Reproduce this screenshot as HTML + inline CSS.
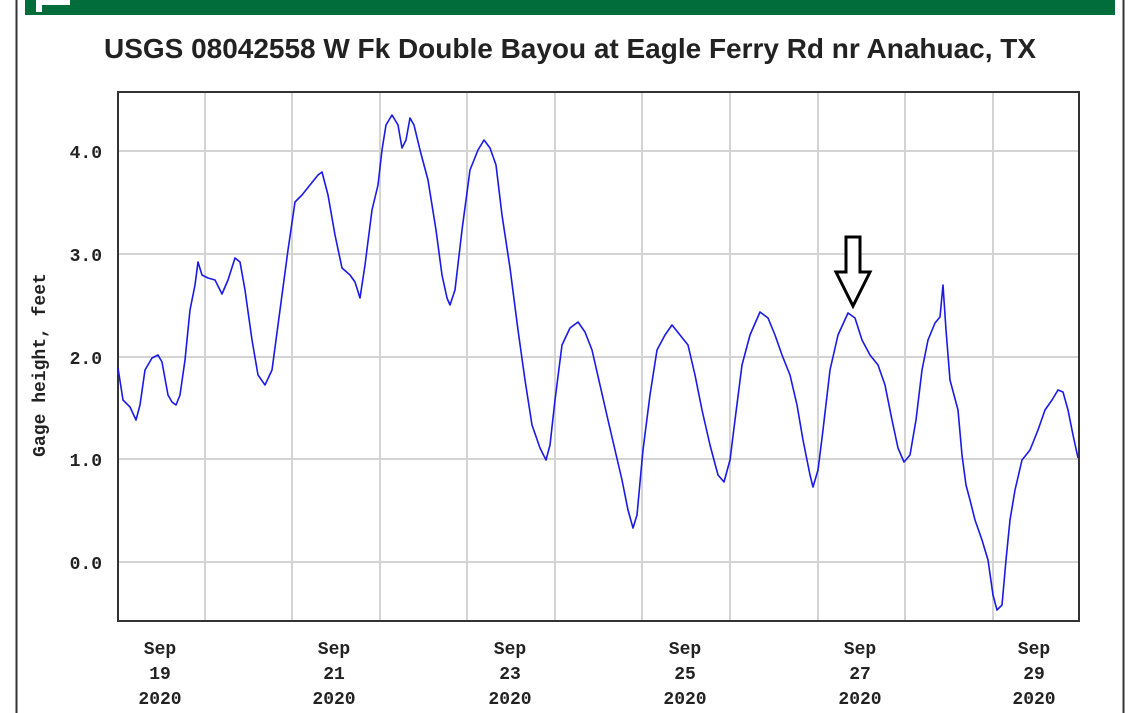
<!DOCTYPE html>
<html><head><meta charset="utf-8"><style>html,body{margin:0;padding:0;background:#fff}svg{display:block}</style></head>
<body>
<svg width="1140" height="713" viewBox="0 0 1140 713" xmlns="http://www.w3.org/2000/svg">
<rect width="1140" height="713" fill="#fff"/>
<rect x="25" y="0" width="1090" height="15" fill="#006d3a"/>
<rect x="36" y="0" width="34" height="5" fill="#fff"/>
<rect x="36" y="0" width="6" height="12" fill="#fff"/>
<line x1="16.5" y1="0" x2="16.5" y2="713" stroke="#333" stroke-width="2"/>
<line x1="1123.5" y1="0" x2="1123.5" y2="713" stroke="#333" stroke-width="2"/>
<text x="570" y="58" text-anchor="middle" font-family="Liberation Sans, sans-serif" font-weight="bold" font-size="28" fill="#222" textLength="932" lengthAdjust="spacingAndGlyphs">USGS 08042558 W Fk Double Bayou at Eagle Ferry Rd nr Anahuac, TX</text>
<g stroke="#d4d4d4" stroke-width="2">
<line x1="205" y1="92" x2="205" y2="621"/><line x1="292" y1="92" x2="292" y2="621"/><line x1="380" y1="92" x2="380" y2="621"/><line x1="467" y1="92" x2="467" y2="621"/><line x1="555" y1="92" x2="555" y2="621"/><line x1="642" y1="92" x2="642" y2="621"/><line x1="730" y1="92" x2="730" y2="621"/><line x1="818" y1="92" x2="818" y2="621"/><line x1="905" y1="92" x2="905" y2="621"/><line x1="993" y1="92" x2="993" y2="621"/>
<line x1="118" y1="151" x2="1079" y2="151"/><line x1="118" y1="254" x2="1079" y2="254"/><line x1="118" y1="357" x2="1079" y2="357"/><line x1="118" y1="459" x2="1079" y2="459"/><line x1="118" y1="562" x2="1079" y2="562"/>
</g>
<rect x="118" y="92" width="961" height="529" fill="none" stroke="#333" stroke-width="2"/>
<g font-family="Liberation Mono, monospace" font-weight="bold" font-size="18" fill="#222" text-anchor="end">
<text x="102" y="158">4.0</text><text x="102" y="261">3.0</text><text x="102" y="364">2.0</text><text x="102" y="466">1.0</text><text x="102" y="569">0.0</text>
</g>
<text transform="translate(45,365) rotate(-90)" text-anchor="middle" font-family="Liberation Mono, monospace" font-weight="bold" font-size="18" fill="#222">Gage height, feet</text>
<g font-family="Liberation Mono, monospace" font-weight="bold" font-size="18" fill="#222" text-anchor="middle">
<text x="160" y="654">Sep</text><text x="160" y="679">19</text><text x="160" y="704">2020</text>
<text x="334" y="654">Sep</text><text x="334" y="679">21</text><text x="334" y="704">2020</text>
<text x="510" y="654">Sep</text><text x="510" y="679">23</text><text x="510" y="704">2020</text>
<text x="685" y="654">Sep</text><text x="685" y="679">25</text><text x="685" y="704">2020</text>
<text x="860" y="654">Sep</text><text x="860" y="679">27</text><text x="860" y="704">2020</text>
<text x="1034" y="654">Sep</text><text x="1034" y="679">29</text><text x="1034" y="704">2020</text>
</g>
<polyline fill="none" stroke="#1a1ae6" stroke-width="1.6" stroke-linejoin="round" points="118,368 123,400 130,407 136,420 140,405 145,370 152,358 158,355 162,362 168,395 172,402 176,405 180,395 185,360 190,310 195,285 198,262 202,275 208,278 215,280 222,294 228,280 235,258 240,262 245,290 252,340 258,375 265,385 272,370 280,310 288,250 295,202 302,195 310,185 318,175 322,172 328,195 335,235 342,268 350,275 355,282 360,298 365,265 372,210 378,185 382,150 386,125 392,115 398,125 402,148 406,140 410,118 414,125 420,150 428,180 436,230 442,275 447,298 450,305 455,290 462,230 470,170 478,150 484,140 490,148 496,165 502,215 510,268 518,330 525,380 532,425 540,448 546,460 550,445 555,400 562,345 570,328 578,322 585,332 592,350 600,385 608,420 615,450 622,480 628,510 633,528 637,515 643,450 650,395 657,350 665,335 672,325 680,335 688,345 695,375 702,410 710,445 718,475 724,482 730,460 735,420 742,365 750,335 760,312 768,318 775,335 782,355 790,375 797,405 803,440 810,475 813,487 818,470 823,430 830,370 838,335 848,313 855,318 862,340 870,355 878,365 885,385 892,420 898,448 904,462 910,455 916,420 922,370 928,340 935,323 940,317 943,285 946,330 950,380 958,410 962,455 966,485 970,500 975,520 982,540 988,560 993,595 997,610 1002,605 1006,560 1010,520 1015,490 1022,460 1030,450 1038,430 1045,410 1052,400 1058,390 1063,392 1068,410 1073,435 1078,458"/>
<path d="M846,237 L860,237 L860,272 L870,272 L853,306 L836,272 L846,272 Z" fill="#fff" stroke="#000" stroke-width="3" stroke-linejoin="miter"/>
</svg>
</body></html>
